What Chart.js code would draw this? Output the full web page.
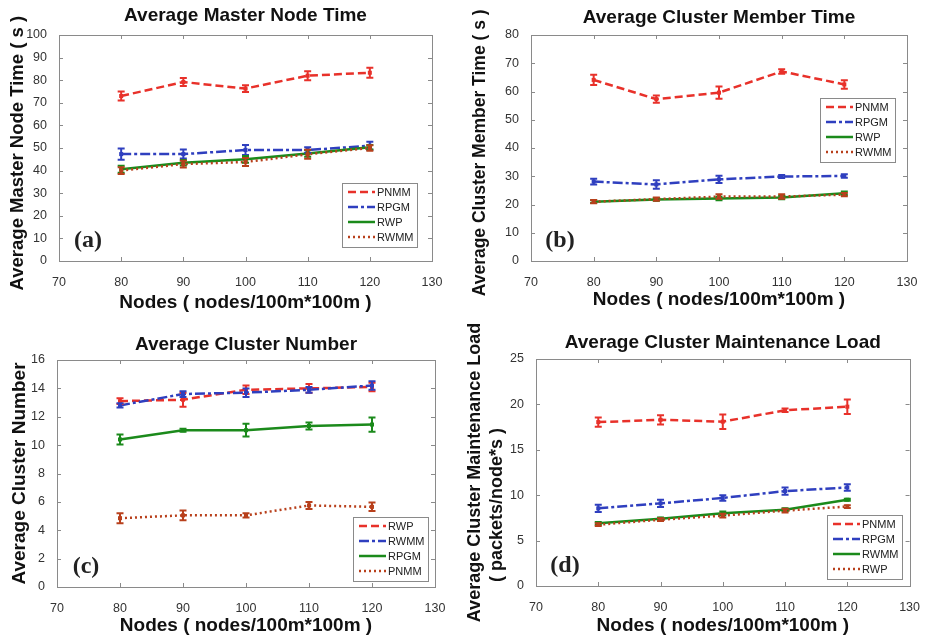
<!DOCTYPE html>
<html>
<head>
<meta charset="utf-8">
<title>Cluster metrics vs nodes</title>
<script src="https://cdn.jsdelivr.net/npm/chart.js@4.4.0/dist/chart.umd.min.js"></script>
<style>
  body { margin: 0; background: #fff; }
  #wrap { position: relative; width: 926px; height: 640px; }
  .panel { position: absolute; width: 463px; height: 320px; }
</style>
</head>
<body>
<div id="wrap">
  <div class="panel" style="left:0;top:0"><canvas id="chartA"></canvas></div>
  <div class="panel" style="left:463px;top:0"><canvas id="chartB"></canvas></div>
  <div class="panel" style="left:0;top:320px"><canvas id="chartC"></canvas></div>
  <div class="panel" style="left:463px;top:320px"><canvas id="chartD"></canvas></div>
</div>
<script>
// x values and ticks shared by the four plots
const nodes = [80, 90, 100, 110, 120];
const nodeTicks = [70, 80, 90, 100, 110, 120, 130];

// (a) Average Master Node Time
const masterNames = ['PNMM', 'RPGM', 'RWP', 'RWMM'];
const masterPNMM = [73.0, 79.2, 76.3, 82.0, 83.3];
const masterRPGM = [47.3, 47.3, 49.1, 49.1, 51.0];
const masterRWP = [40.6, 43.5, 45.0, 47.6, 50.3];
const masterRWMM = [40.0, 42.9, 43.8, 47.2, 50.0];
const masterPNMMErr = [2.0, 1.8, 1.5, 2.0, 2.2];
const masterRPGMErr = [2.5, 2.0, 2.2, 1.2, 1.8];
const masterRWPErr = [1.5, 1.2, 1.5, 1.5, 1.0];
const masterRWMMErr = [1.5, 1.5, 1.8, 2.0, 1.2];
const masterTicks = [0, 10, 20, 30, 40, 50, 60, 70, 80, 90, 100];

// (b) Average Cluster Member Time
const memberNames = ['PNMM', 'RPGM', 'RWP', 'RWMM'];
const memberPNMM = [64.1, 57.3, 59.6, 67.1, 62.5];
const memberRPGM = [28.1, 27.1, 28.9, 29.9, 30.1];
const memberRWP = [21.0, 21.8, 22.1, 22.5, 24.0];
const memberRWMM = [21.0, 21.9, 22.8, 22.8, 23.5];
const memberPNMMErr = [1.8, 1.3, 2.2, 0.8, 1.5];
const memberRPGMErr = [1.0, 1.5, 1.3, 0.5, 0.6];
const memberRWPErr = [0.5, 0.5, 0.6, 0.6, 0.6];
const memberRWMMErr = [0.6, 0.6, 0.8, 0.8, 0.6];
const memberTicks = [0, 10, 20, 30, 40, 50, 60, 70, 80];

// (c) Average Cluster Number
const numberNames = ['RWP', 'RWMM', 'RPGM', 'PNMM'];
const numberRWP = [13.1, 13.2, 13.9, 14.0, 14.1];
const numberRWMM = [12.8, 13.6, 13.7, 13.9, 14.2];
const numberRPGM = [10.4, 11.05, 11.05, 11.35, 11.45];
const numberPNMM = [4.85, 5.05, 5.05, 5.75, 5.65];
const numberRWPErr = [0.2, 0.5, 0.3, 0.3, 0.3];
const numberRWMMErr = [0.15, 0.2, 0.3, 0.2, 0.3];
const numberRPGMErr = [0.35, 0.1, 0.45, 0.25, 0.5];
const numberPNMMErr = [0.35, 0.35, 0.15, 0.25, 0.3];
const numberTicks = [0, 2, 4, 6, 8, 10, 12, 14, 16];

// (d) Average Cluster Maintenance Load
const loadNames = ['PNMM', 'RPGM', 'RWMM', 'RWP'];
const loadPNMM = [18.05, 18.3, 18.1, 19.35, 19.75];
const loadRPGM = [8.55, 9.1, 9.7, 10.45, 10.85];
const loadRWMM = [6.9, 7.4, 8.0, 8.4, 9.5];
const loadRWP = [6.75, 7.3, 7.75, 8.3, 8.75];
const loadPNMMErr = [0.5, 0.5, 0.8, 0.2, 0.8];
const loadRPGMErr = [0.4, 0.4, 0.3, 0.4, 0.35];
const loadRWMMErr = [0.15, 0.15, 0.2, 0.15, 0.1];
const loadRWPErr = [0.15, 0.15, 0.2, 0.2, 0.15];
const loadTicks = [0, 5, 10, 15, 20, 25];

// same line style by legend position in every plot
const lineStyles = [
    { color: '#e8312a', dash: [8, 4] },
    { color: '#2f3fbf', dash: [10, 3, 3, 3] },
    { color: '#1b8a1b', dash: [] },
    { color: '#b8401c', dash: [2, 3] }
];
const FONT = '"Liberation Sans", Arial, sans-serif';
const pad = n => '\u00a0'.repeat(n);

// matlab style: box, inner ticks, error bars, legend, panel letter
const matlabLook = {
    id: 'matlabLook',
    afterDatasetsDraw(chart) {
        const ctx = chart.ctx;
        const y = chart.scales.y;
        chart.data.datasets.forEach((ds, i) => {
            const meta = chart.getDatasetMeta(i);
            ctx.save();
            ctx.strokeStyle = ds.borderColor;
            ctx.lineWidth = 2;
            meta.data.forEach((pt, k) => {
                const v = ds.data[k].y, e = ds.errors[k];
                const y1 = y.getPixelForValue(v - e), y2 = y.getPixelForValue(v + e);
                ctx.beginPath();
                ctx.moveTo(pt.x, y1); ctx.lineTo(pt.x, y2);
                ctx.moveTo(pt.x - 3.5, y1); ctx.lineTo(pt.x + 3.5, y1);
                ctx.moveTo(pt.x - 3.5, y2); ctx.lineTo(pt.x + 3.5, y2);
                ctx.stroke();
                ctx.fillStyle = ds.borderColor;
                ctx.fillRect(pt.x - 2, pt.y - 2, 4, 4);
            });
            ctx.restore();
        });
    },
    afterDraw(chart, args, opts) {
        const ctx = chart.ctx;
        const a = chart.chartArea;
        const xs = chart.scales.x, ys = chart.scales.y;
        ctx.save();
        ctx.strokeStyle = '#8a8a8a';
        ctx.lineWidth = 1;
        ctx.strokeRect(Math.round(a.left) + 0.5, Math.round(a.top) + 0.5,
            Math.round(a.right - a.left), Math.round(a.bottom - a.top));
        ctx.beginPath();
        xs.ticks.forEach(t => {
            const px = Math.round(xs.getPixelForValue(t.value)) + 0.5;
            ctx.moveTo(px, a.bottom); ctx.lineTo(px, a.bottom - 4);
            ctx.moveTo(px, a.top); ctx.lineTo(px, a.top + 4);
        });
        ys.ticks.forEach(t => {
            const py = Math.round(ys.getPixelForValue(t.value)) + 0.5;
            ctx.moveTo(a.left, py); ctx.lineTo(a.left + 4, py);
            ctx.moveTo(a.right, py); ctx.lineTo(a.right - 4, py);
        });
        ctx.stroke();

        // legend box
        ctx.font = '11px ' + FONT;
        const textW = Math.max(...chart.data.datasets.map(d => ctx.measureText(d.label).width));
        const w = Math.round(35 + textW + 4), h = 64;
        const lx = Math.round(a.right - opts.legendRight - w);
        const ly = opts.legendTop !== undefined ? Math.round(a.top + opts.legendTop)
                                               : Math.round(a.bottom - opts.legendBottom - h);
        ctx.fillStyle = '#fff';
        ctx.fillRect(lx, ly, w, h);
        ctx.strokeStyle = '#8a8a8a';
        ctx.strokeRect(lx + 0.5, ly + 0.5, w, h);
        chart.data.datasets.forEach((ds, i) => {
            const ry = ly + 9 + i * 15;
            ctx.strokeStyle = ds.borderColor;
            ctx.lineWidth = 2.5;
            ctx.setLineDash(ds.borderDash);
            ctx.beginPath();
            ctx.moveTo(lx + 6, ry); ctx.lineTo(lx + 33, ry);
            ctx.stroke();
            ctx.setLineDash([]);
            ctx.fillStyle = '#222';
            ctx.textAlign = 'left';
            ctx.textBaseline = 'middle';
            ctx.fillText(ds.label, lx + 35, ry + 0.5);
        });

        // panel letter
        ctx.font = 'bold 24px "Liberation Serif", "Times New Roman", serif';
        ctx.fillStyle = '#222';
        ctx.textAlign = 'center';
        ctx.textBaseline = 'middle';
        ctx.fillText(opts.label, a.left + 29, a.bottom - 20);
        ctx.restore();
    }
};

function makeChart(id, p) {
    return new Chart(document.getElementById(id), {
        type: 'line',
        data: {
            datasets: p.names.map((name, i) => ({
                label: name,
                data: nodes.map((x, k) => ({ x: x, y: p.values[i][k] })),
                errors: p.errors[i],
                borderColor: lineStyles[i].color,
                borderDash: lineStyles[i].dash,
                borderWidth: 2.5,
                pointRadius: 0,
                tension: 0,
                fill: false,
                order: 4 - i
            }))
        },
        options: {
            responsive: true,
            maintainAspectRatio: false,
            animation: false,
            layout: { padding: { left: 0, right: p.padRight, top: 0, bottom: 0 } },
            plugins: {
                legend: { display: false },
                tooltip: { enabled: false },
                title: {
                    display: true,
                    text: p.title,
                    fullSize: false,
                    color: '#111',
                    font: { family: FONT, size: 19, weight: 'bold' },
                    padding: { top: p.titleTop, bottom: p.top - p.titleTop - 22.8 }
                },
                matlabLook: p.look
            },
            scales: {
                x: {
                    type: 'linear',
                    min: 70, max: 130,
                    afterBuildTicks: s => { s.ticks = nodeTicks.map(v => ({ value: v })); },
                    afterFit: s => { s.height = p.xHeight; },
                    grid: { display: false },
                    border: { display: false },
                    ticks: { color: '#333', padding: 6, font: { family: FONT, size: 12.5 } },
                    title: {
                        display: true,
                        text: 'Nodes ( nodes/100m*100m )',
                        color: '#111',
                        font: { family: FONT, size: 19, weight: 'bold' },
                        padding: { top: 0, bottom: p.xTitleBottom }
                    }
                },
                y: {
                    type: 'linear',
                    min: p.yTicks[0], max: p.yTicks[p.yTicks.length - 1],
                    afterBuildTicks: s => { s.ticks = p.yTicks.map(v => ({ value: v })); },
                    afterFit: s => { s.width = p.yWidth; },
                    grid: { display: false },
                    border: { display: false },
                    ticks: { color: '#333', padding: 4, font: { family: FONT, size: 12.5 } },
                    title: {
                        display: true,
                        text: p.yTitle,
                        color: '#111',
                        font: { family: FONT, size: p.yTitleSize, weight: 'bold' },
                        padding: { top: p.yTitleTop, bottom: 0 }
                    }
                }
            }
        },
        plugins: [matlabLook]
    });
}

makeChart('chartA', {
    title: 'Average Master Node Time',
    yTitle: 'Average Master Node Time ( s )' + pad(2),
    names: masterNames,
    values: [masterPNMM, masterRPGM, masterRWP, masterRWMM],
    errors: [masterPNMMErr, masterRPGMErr, masterRWPErr, masterRWMMErr],
    yTicks: masterTicks,
    yWidth: 59, xHeight: 59, padRight: 31, top: 35, titleTop: 4,
    xTitleBottom: 5.5, yTitleSize: 18.5, yTitleTop: 6.5,
    look: { label: '(a)', legendRight: 15, legendBottom: 14 }
});

makeChart('chartB', {
    title: 'Average Cluster Member Time',
    yTitle: 'Average Cluster Member Time ( s )' + pad(2),
    names: memberNames,
    values: [memberPNMM, memberRPGM, memberRWP, memberRWMM],
    errors: [memberPNMMErr, memberRPGMErr, memberRWPErr, memberRWMMErr],
    yTicks: memberTicks,
    yWidth: 68, xHeight: 59, padRight: 19, top: 35, titleTop: 6,
    xTitleBottom: 8.5, yTitleSize: 17.5, yTitleTop: 7,
    look: { label: '(b)', legendRight: 12, legendTop: 63 }
});

makeChart('chartC', {
    title: 'Average Cluster Number',
    yTitle: 'Average Cluster Number',
    names: numberNames,
    values: [numberRWP, numberRWMM, numberRPGM, numberPNMM],
    errors: [numberRWPErr, numberRWMMErr, numberRPGMErr, numberPNMMErr],
    yTicks: numberTicks,
    yWidth: 57, xHeight: 53, padRight: 28, top: 40, titleTop: 13,
    xTitleBottom: 2.5, yTitleSize: 19, yTitleTop: 8.5,
    look: { label: '(c)', legendRight: 7, legendBottom: 6 }
});

makeChart('chartD', {
    title: 'Average Cluster Maintenance Load',
    // second line sits lower in the original, padded with trailing spaces
    yTitle: ['Average Cluster Maintenance Load', '( packets/node*s )' + pad(13)],
    names: loadNames,
    values: [loadPNMM, loadRPGM, loadRWMM, loadRWP],
    errors: [loadPNMMErr, loadRPGMErr, loadRWMMErr, loadRWPErr],
    yTicks: loadTicks,
    yWidth: 73, xHeight: 54, padRight: 16, top: 39, titleTop: 11.5,
    xTitleBottom: 2.5, yTitleSize: 18, yTitleTop: 1.2,
    look: { label: '(d)', legendRight: 8, legendBottom: 7 }
});
</script>
</body>
</html>
